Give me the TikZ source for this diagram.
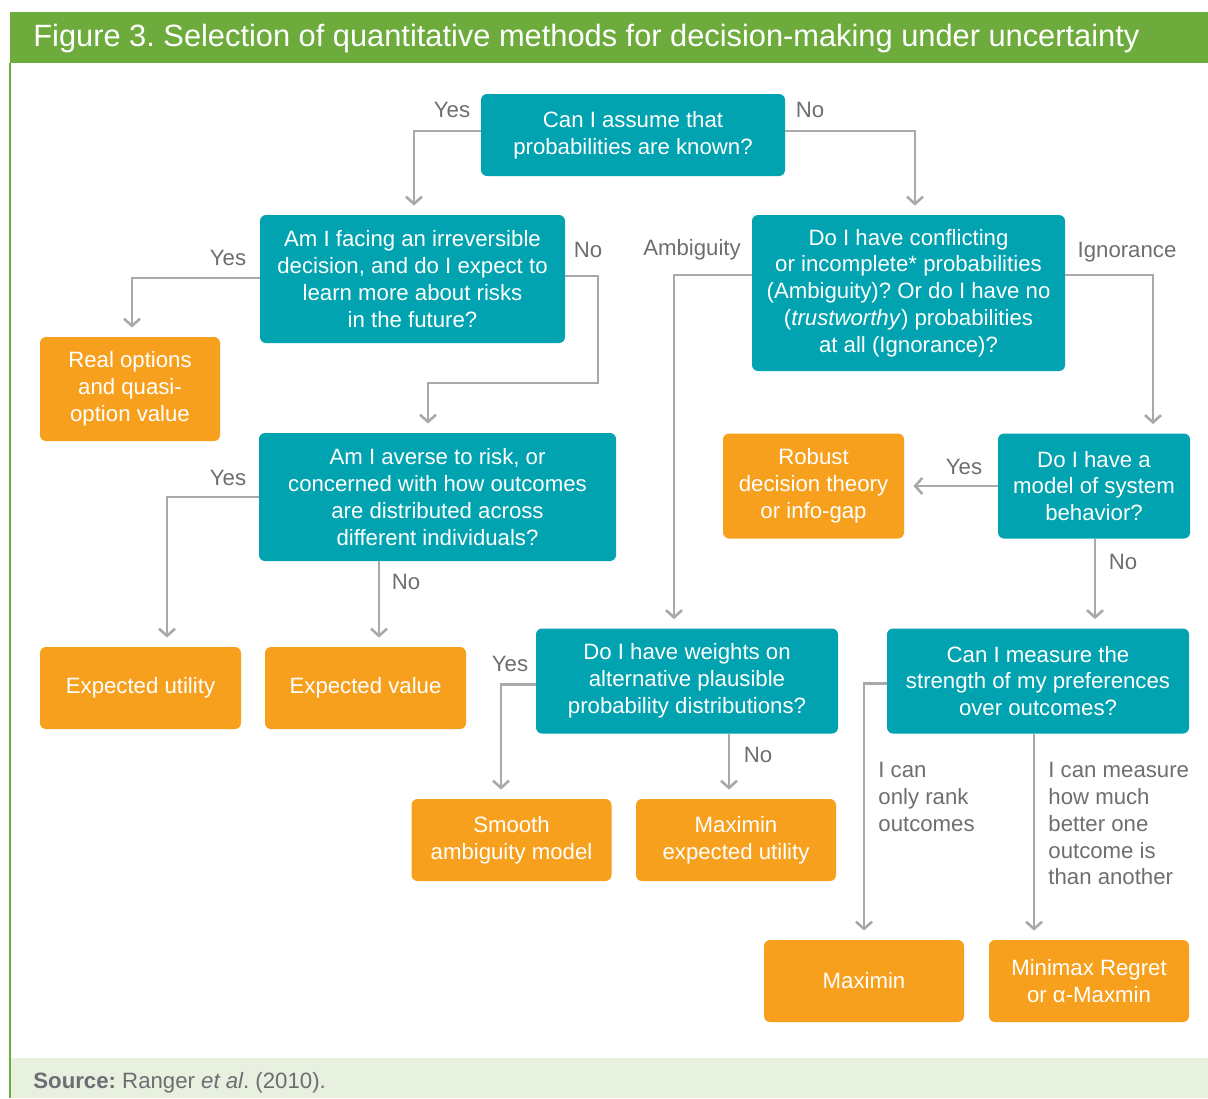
\documentclass[tikz,border=0pt]{standalone}
\usepackage{fontspec}
\setmainfont{Liberation Sans}
\usepackage{tikz}
\usetikzlibrary{arrows.meta}
\frenchspacing

\definecolor{figgreen}{RGB}{109,172,60}
\definecolor{footgreen}{RGB}{232,240,224}
\definecolor{qteal}{RGB}{0,163,175}
\definecolor{qorange}{RGB}{247,160,30}
\definecolor{linegray}{RGB}{167,169,172}
\definecolor{labgray}{RGB}{109,110,113}
\newcommand{\boxfont}{\fontsize{11.1}{13.4}\selectfont}

\begin{document}
\begin{tikzpicture}[x=0.5pt,y=-0.5pt,
    box/.style 2 args={rounded corners=3pt,align=center,font=\boxfont,text=white,
        inner sep=0pt,minimum width=#1,minimum height=#2},
    quest/.style 2 args={box={#1}{#2},fill=qteal},
    answer/.style 2 args={box={#1}{#2},fill=qorange},
    lab/.style={text=labgray,font=\boxfont,inner sep=0pt},
    conn/.style={draw=linegray,line width=1.3pt,
        -{Straight Barb[length=3.6pt,width=8pt]},shorten >=4.5pt}]
        \useasboundingbox (0,0) rectangle (1208,1098);

        % Frame: title bar, left rule, source strip
        \fill[figgreen] (10,12) rectangle (1208,63);
        \fill[footgreen] (10,1058) rectangle (1208,1098);
        \draw[figgreen,line width=0.8pt] (10,63) -- (10,1098);
        \node[anchor=west,text=white,inner sep=0pt,font=\fontsize{15.4}{17}\selectfont] (title) at (33,39)
            {Figure 3. Selection of quantitative methods for decision-making under uncertainty};
        \node[anchor=west,text=labgray,inner sep=0pt,font=\fontsize{11.1}{13}\selectfont] (source) at (33,1083)
            {\textbf{Source:} Ranger \textit{et al}. (2010).};

        % Questions
        \node[quest={152pt}{41pt}] (known) at (633,135) {Can I assume that\\probabilities are known?};
        \node[quest={152.5pt}{64pt}] (irrev) at (412.5,279) {Am I facing an irreversible\\decision, and do I expect to\\learn more about risks\\in the future?};
        \node[quest={156.5pt}{78pt}] (confl) at (908.5,293) {Do I have conflicting\\or incomplete* probabilities\\(Ambiguity)? Or do I have no\\(\textit{trustworthy}) probabilities\\at all (Ignorance)?};
        \node[quest={178.5pt}{64pt}] (averse) at (437.5,497) {Am I averse to risk, or\\concerned with how outcomes\\are distributed across\\different individuals?};
        \node[quest={96pt}{52.5pt}] (model) at (1094,486) {Do I have a\\model of system\\behavior?};
        \node[quest={151pt}{52.5pt}] (weights) at (687,681) {Do I have weights on\\alternative plausible\\probability distributions?};
        \node[quest={151pt}{52.5pt}] (measure) at (1038,681) {Can I measure the\\strength of my preferences\\over outcomes?};

        % Methods
        \node[answer={90pt}{52pt}] (realopt) at (130,389) {Real options\\and quasi-\\option value};
        \node[answer={90.5pt}{52.5pt}] (robust) at (813.5,486) {Robust\\decision theory\\or info-gap};
        \node[answer={100.5pt}{41pt}] (exputil) at (140.5,688) {Expected utility};
        \node[answer={100.5pt}{41pt}] (expval) at (365.5,688) {Expected value};
        \node[answer={100pt}{41pt}] (smooth) at (511.5,840) {Smooth\\ambiguity model};
        \node[answer={100pt}{41pt}] (maxexp) at (736,840) {Maximin\\expected utility};
        \node[answer={100pt}{41pt}] (maximin) at (864,981) {Maximin};
        \node[answer={100pt}{41pt}] (minimax) at (1089,981) {Minimax Regret\\or α-Maxmin};

        % Connectors
        \draw[conn] ([shift={(0,-4)}]known.west) -| ([shift={(1.5,0)}]irrev.north);
        \draw[conn] ([shift={(0,-4)}]known.east) -| ([shift={(6.5,0)}]confl.north);
        \draw[conn] ([shift={(0,-1)}]irrev.west) -| ([shift={(2,0)}]realopt.north);
        \coordinate (turn) at (598,383);
        \draw[conn] ([shift={(0,-3)}]irrev.east) -| (turn) -| ([shift={(-9.5,0)}]averse.north);
        \draw[conn] ([shift={(0,-18)}]confl.west) -| ([shift={(-13,0)}]weights.north);
        \draw[conn] ([shift={(0,-18)}]confl.east) -| ([shift={(59,0)}]model.north);
        \draw[conn] (averse.west) -| ([shift={(26.5,0)}]exputil.north);
        \draw[conn] ([shift={(-58.5,0)}]averse.south) -- ([shift={(-58.5,0)}]averse.south |- expval.north);
        \draw[conn] (model.west) -- (robust.east);
        \draw[conn] ([shift={(1,0)}]model.south) -- ([shift={(1,0)}]model.south |- measure.north);
        \draw[conn] ([shift={(0,3.5)}]weights.west) -| ([shift={(-10.5,0)}]smooth.north);
        \draw[conn] ([shift={(42,0)}]weights.south) -- ([shift={(42,0)}]weights.south |- maxexp.north);
        \draw[conn] ([shift={(0,2.5)}]measure.west) -| (maximin.north);
        \draw[conn] ([shift={(-4,0)}]measure.south) -- ([shift={(-4,0)}]measure.south |- minimax.north);

        % Branch labels
        \node[lab] (yes1) at (452,110) {Yes};
        \node[lab] (no1) at (810,110) {No};
        \node[lab] (yes2) at (228,258) {Yes};
        \node[lab] (no2) at (588,250) {No};
        \node[lab] (ambig) at (692,250) {Ambiguity};
        \node[lab] (ignor) at (1127,252) {Ignorance};
        \node[lab] (yes3) at (228,478) {Yes};
        \node[lab] (no3) at (406,582) {No};
        \node[lab] (yes4) at (964,467) {Yes};
        \node[lab] (no4) at (1123,562) {No};
        \node[lab] (yes5) at (510,664) {Yes};
        \node[lab] (no5) at (758,755) {No};
        \node[lab,align=left,anchor=north west] (rank) at (878,762) {I can\\only rank\\outcomes};
        \node[lab,align=left,anchor=north west] (howmuch) at (1048,762) {I can measure\\how much\\better one\\outcome is\\than another};
    \end{tikzpicture}
\end{document}
